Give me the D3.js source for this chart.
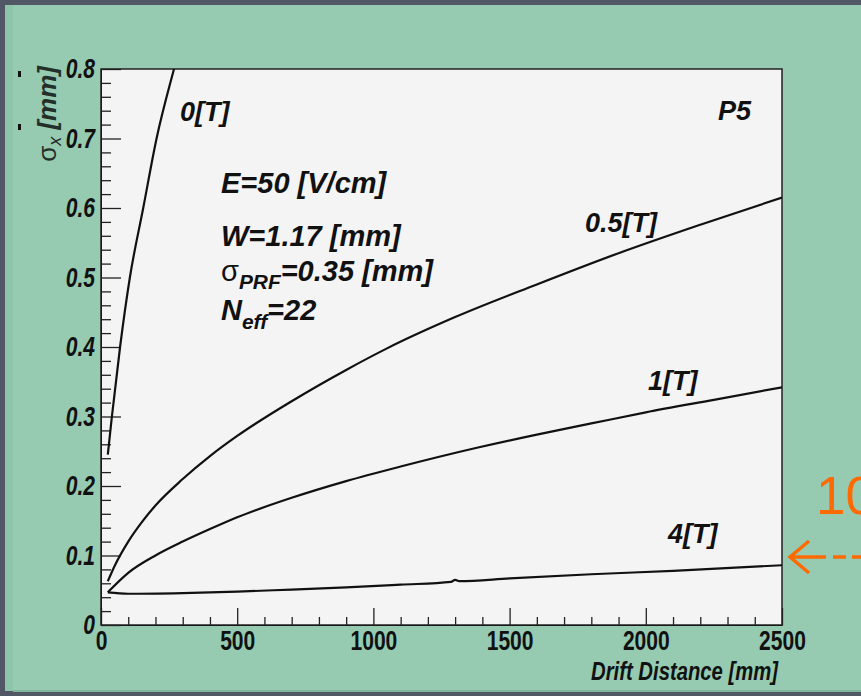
<!DOCTYPE html>
<html>
<head>
<meta charset="utf-8">
<script src="https://cdn.jsdelivr.net/npm/d3@7"></script>
<style>
  html, body { margin: 0; padding: 0; background: #525766; }
  svg { display: block; }
</style>
</head>
<body>
<svg id="chart" width="861" height="696"></svg>
<script>
// Drift distance [mm] vs sigma_x [mm]
const drift0T = [25, 40, 70, 106, 155, 204, 268, 285];
const sigma0T = [0.245, 0.30, 0.40, 0.50, 0.60, 0.70, 0.80, 0.825];

const drift05T = [25, 50, 100, 150, 200, 300, 400, 500, 700, 900, 1050, 1300, 1600, 1900, 2200, 2500];
const sigma05T = [0.063, 0.085, 0.12, 0.148, 0.172, 0.21, 0.243, 0.272, 0.322, 0.367, 0.398, 0.443, 0.49, 0.535, 0.576, 0.615];

const drift1T = [25, 100, 200, 300, 400, 500, 700, 900, 1100, 1380, 1600, 1800, 2000, 2250, 2500];
const sigma1T = [0.047, 0.075, 0.1, 0.12, 0.138, 0.155, 0.183, 0.207, 0.228, 0.255, 0.274, 0.29, 0.306, 0.324, 0.342];

const drift4T = [25, 100, 300, 500, 700, 900, 1100, 1285, 1300, 1315, 1500, 1800, 2100, 2500];
const sigma4T = [0.047, 0.045, 0.046, 0.048, 0.051, 0.054, 0.058, 0.062, 0.065, 0.063, 0.067, 0.073, 0.078, 0.086];

const xMajor = [0, 500, 1000, 1500, 2000, 2500];
const yMajor = [0, 0.1, 0.2, 0.3, 0.4, 0.5, 0.6, 0.7, 0.8];

const curves = [
  { name: "0[T]", xs: drift0T, ys: sigma0T },
  { name: "0.5[T]", xs: drift05T, ys: sigma05T },
  { name: "1[T]", xs: drift1T, ys: sigma1T },
  { name: "4[T]", xs: drift4T, ys: sigma4T }
];

const svg = d3.select("#chart");
const sans = "'Liberation Sans', Arial, sans-serif";
const squeeze = 0.78; // the axis font is a narrow one

// slide background
svg.append("rect").attr("width", 861).attr("height", 696).attr("fill", "#525766");
svg.append("rect").attr("x", 5).attr("y", 5).attr("width", 856).attr("height", 686).attr("fill", "#8dc4aa");
svg.append("rect").attr("x", 13).attr("y", 5).attr("width", 848).attr("height", 685).attr("fill", "#96cbb2");
svg.append("rect").attr("x", 13).attr("y", 690).attr("width", 848).attr("height", 2).attr("fill", "#7fb59c");
// little specks at the left edge
svg.append("rect").attr("x", 18).attr("y", 71).attr("width", 3).attr("height", 6).attr("fill", "#111");
svg.append("rect").attr("x", 18).attr("y", 124).attr("width", 3).attr("height", 6).attr("fill", "#111");

const x = d3.scaleLinear().domain([0, 2500]).range([101, 782]);
const y = d3.scaleLinear().domain([0, 0.8]).range([625, 69]);

// plot area
svg.append("rect")
  .attr("x", x(0)).attr("y", y(0.8))
  .attr("width", x(2500) - x(0)).attr("height", y(0) - y(0.8))
  .attr("fill", "#f4f4f4");

svg.append("clipPath").attr("id", "clip")
  .append("rect")
  .attr("x", x(0)).attr("y", y(0.8))
  .attr("width", x(2500) - x(0)).attr("height", y(0) - y(0.8));

// minor ticks
const xMinor = d3.range(0, 2501, 100).filter(v => v % 500 !== 0);
const yMinor = d3.range(0, 0.801, 0.02).filter(v => Math.abs(v * 10 - Math.round(v * 10)) > 1e-6);

svg.append("g")
  .attr("transform", `translate(0,${y(0)})`)
  .call(d3.axisBottom(x).tickValues(xMinor).tickSize(-8).tickFormat(""))
  .call(g => g.select(".domain").remove());

svg.append("g")
  .attr("transform", `translate(${x(0)},0)`)
  .call(d3.axisLeft(y).tickValues(yMinor).tickSize(-10).tickFormat(""))
  .call(g => g.select(".domain").remove());

// major ticks + labels
const xAxis = svg.append("g")
  .attr("transform", `translate(0,${y(0)})`)
  .call(d3.axisBottom(x).tickValues(xMajor).tickSize(-17).tickSizeOuter(0).tickPadding(6).tickFormat(d3.format("d")));
xAxis.selectAll("text")
  .attr("font-family", sans).attr("font-weight", "bold")
  .attr("font-size", 27).attr("fill", "#111")
  .attr("transform", `scale(${squeeze},1)`);

const yAxis = svg.append("g")
  .attr("transform", `translate(${x(0)},0)`)
  .call(d3.axisLeft(y).tickValues(yMajor).tickSize(-20).tickSizeOuter(0).tickPadding(6)
    .tickFormat(d => d === 0 ? "0" : d3.format(".1f")(d)));
yAxis.selectAll("text")
  .attr("x", -6 / squeeze)
  .attr("font-family", sans).attr("font-weight", "bold").attr("font-style", "italic")
  .attr("font-size", 27).attr("fill", "#111")
  .attr("transform", `scale(${squeeze},1)`);

svg.selectAll(".tick line").attr("stroke", "#222").attr("stroke-width", 1.3);

// frame
svg.append("rect")
  .attr("x", x(0)).attr("y", y(0.8))
  .attr("width", x(2500) - x(0)).attr("height", y(0) - y(0.8))
  .attr("fill", "none").attr("stroke", "#222").attr("stroke-width", 1.5);

// curves
const line = d3.line()
  .x(d => x(d[0]))
  .y(d => y(d[1]))
  .curve(d3.curveMonotoneX);

svg.append("g").attr("clip-path", "url(#clip)")
  .selectAll("path")
  .data(curves)
  .join("path")
  .attr("d", c => line(c.xs.map((v, i) => [v, c.ys[i]])))
  .attr("fill", "none")
  .attr("stroke", "#111")
  .attr("stroke-width", 2.2);

// annotations
function label(px, py, parts, size) {
  const t = svg.append("text")
    .attr("x", px).attr("y", py)
    .attr("font-family", sans).attr("font-size", size)
    .attr("fill", "#111");
  parts.forEach(p => {
    const s = t.append("tspan").text(p.text)
      .attr("font-weight", p.plain ? "normal" : "bold")
      .attr("font-style", p.plain ? "normal" : "italic");
    if (p.small) s.attr("font-size", size * 0.72);
    if (p.dy) s.attr("dy", p.dy);
  });
  return t;
}

label(180, 121, [{ text: "0[T]" }], 27);
label(718, 120, [{ text: "P5" }], 27);
label(585, 232, [{ text: "0.5[T]" }], 27);
label(648, 390, [{ text: "1[T]" }], 27);
label(668, 543, [{ text: "4[T]" }], 27);

label(221, 193, [{ text: "E=50 [V/cm]" }], 29);
label(221, 246, [{ text: "W=1.17 [mm]" }], 29);
label(221, 281, [
  { text: "σ", plain: true },
  { text: "PRF", small: true, dy: 8 },
  { text: "=0.35 [mm]", dy: -8 }
], 29);
label(221, 320, [
  { text: "N" },
  { text: "eff", small: true, dy: 9 },
  { text: "=22", dy: -9 }
], 29);

// axis titles
svg.append("text")
  .attr("transform", `translate(778,680) scale(${squeeze},1)`)
  .attr("text-anchor", "end")
  .attr("font-family", sans).attr("font-weight", "bold").attr("font-style", "italic")
  .attr("font-size", 26).attr("fill", "#111")
  .text("Drift Distance [mm]");

const yTitle = svg.append("text")
  .attr("transform", "translate(56,66) rotate(-90)")
  .attr("text-anchor", "end")
  .attr("font-family", sans).attr("font-size", 26).attr("fill", "#23302a");
yTitle.append("tspan").text("σ").attr("font-size", 26);
yTitle.append("tspan").text("x").attr("font-style", "italic").attr("font-size", 18).attr("dy", 5);
yTitle.append("tspan").text(" [mm]").attr("font-weight", "bold").attr("font-style", "italic").attr("dy", -5);

// orange slide overlay on the right (clipped by the slide edge, as in the source)
svg.append("text")
  .attr("x", 816).attr("y", 514)
  .attr("font-family", sans).attr("font-size", 53)
  .attr("fill", "#ff6a00")
  .text("10");

const arrow = svg.append("g").attr("stroke", "#ff6a00").attr("stroke-width", 3.5).attr("fill", "none");
arrow.append("polyline").attr("points", "809,541 790,557 809,573");
arrow.append("line").attr("x1", 790).attr("y1", 557).attr("x2", 826).attr("y2", 557);
arrow.append("line").attr("x1", 833).attr("y1", 557).attr("x2", 846).attr("y2", 557);
arrow.append("line").attr("x1", 852).attr("y1", 557).attr("x2", 861).attr("y2", 557);
</script>
</body>
</html>
